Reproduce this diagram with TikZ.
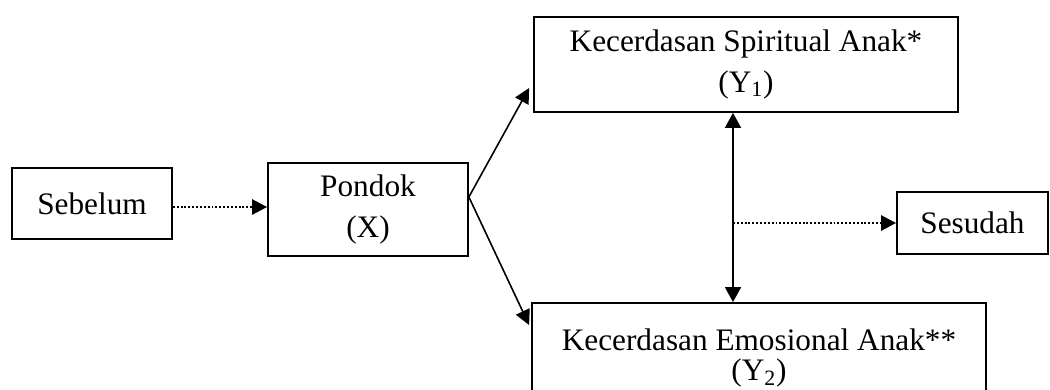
\documentclass[tikz,border=0pt]{standalone}
\usepackage{fontspec}
\setmainfont{Liberation Serif}
\usetikzlibrary{arrows.meta}
\begin{document}
\begin{tikzpicture}[
        box/.style={draw, line width=1pt, inner sep=0pt, align=center, font=\fontsize{17.8}{22.8}\selectfont},
        solidarrow/.style={line width=0.9pt, -{Triangle[length=0.3cm,width=0.3cm]}},
        botharrow/.style={line width=0.9pt, {Triangle[length=0.3cm,width=0.32cm]}-{Triangle[length=0.3cm,width=0.32cm]}},
        dotarrow/.style={line width=1.5pt, dash pattern=on 1.1pt off 1.1pt, -{Triangle[length=0.3cm,width=0.3cm]}}
    ]
        \useasboundingbox (0,0) rectangle (21,7.78);
        \clip (0,0) rectangle (21,7.78);

        % boxes
        \node[box, minimum width=3.2cm, minimum height=1.42cm] (sebelum) at (1.84,3.71) {Sebelum};
        \node[box, minimum width=4cm, minimum height=1.86cm] (pondok) at (7.36,3.59) {Pondok\\(X)};
        \node[box, minimum width=8.48cm, minimum height=1.9cm] (spiritual) at (14.92,6.49) {Kecerdasan Spiritual Anak*\\(Y\textsubscript{1})};
        \node[box, minimum width=9.08cm, minimum height=2.2cm, font=\fontsize{17.8}{17.1}\selectfont] (emosional) at (15.18,0.62) {Kecerdasan Emosional Anak**\\(Y\textsubscript{2})};
        \node[box, minimum width=3.02cm, minimum height=1.24cm] (sesudah) at (19.45,3.32) {Sesudah};

        \coordinate (fork) at ([yshift=0.25cm]pondok.east);
        \coordinate (link) at ([xshift=-0.26cm]spiritual.south);

        \draw[dotarrow] ([yshift=-0.07cm]sebelum.east) -- ([yshift=-0.07cm]sebelum.east -| pondok.west);
        \draw[solidarrow] (fork) -- ([xshift=-0.08cm,yshift=-0.47cm]spiritual.west);
        \draw[solidarrow] (fork) -- ([xshift=-0.04cm,yshift=0.66cm]emosional.west);
        \draw[botharrow] (link) -- (link |- emosional.north);
        \draw[dotarrow] (link |- sesudah.west) -- (sesudah.west);
    \end{tikzpicture}
\end{document}
